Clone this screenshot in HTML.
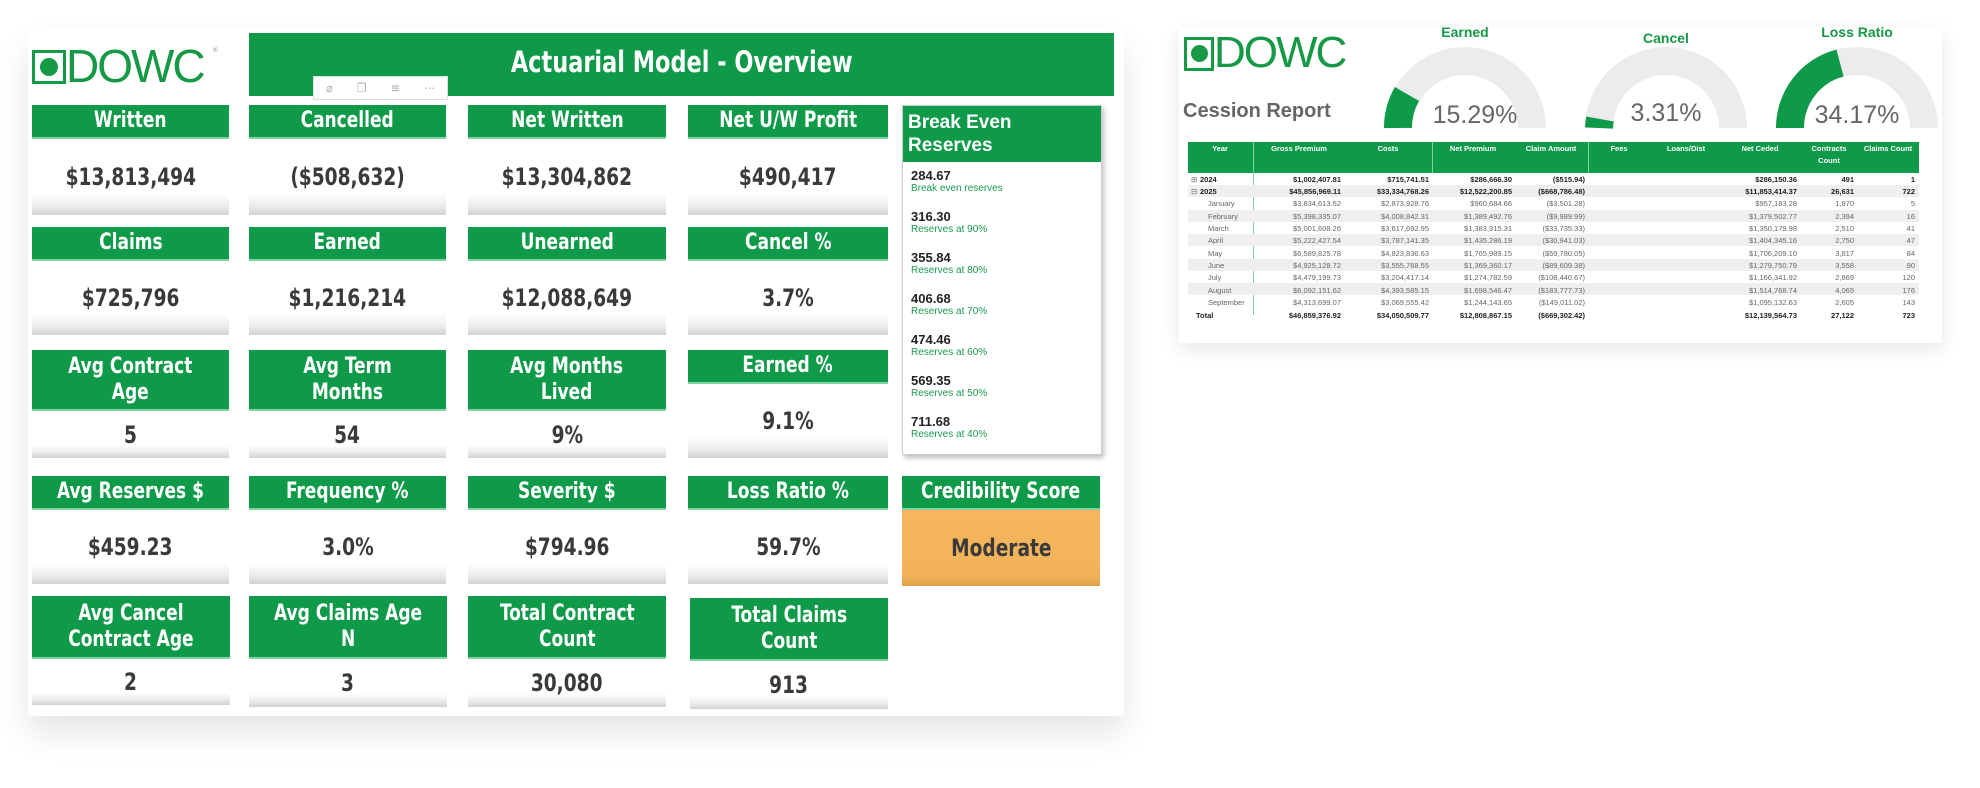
<!DOCTYPE html>
<html><head><meta charset="utf-8">
<style>
*{margin:0;padding:0;box-sizing:border-box}
body{width:1980px;height:788px;background:#fff;position:relative;overflow:hidden;font-family:"DejaVu Sans Condensed","Liberation Sans",sans-serif}
.a{position:absolute}
.panel{position:absolute;background:#fff}
.hd{position:absolute;background:#0e9a48;color:#fff;text-align:center;font-size:22px;line-height:26px;display:flex;align-items:center;justify-content:center;border-bottom:2px solid #7fd3a0;font-weight:bold}
.hd span,.vb span{display:inline-block;transform:scaleX(.86);white-space:nowrap}
.vb{position:absolute;background:linear-gradient(#fff 0%,#fff 72%,#ececec 88%,#d2d2d2 100%);color:#3a3a3a;font-size:24px;font-weight:bold;text-align:center;display:flex;align-items:center;justify-content:center}
.be{position:absolute;left:8px;font-family:"Liberation Sans",sans-serif}
.bv{font-size:13px;font-weight:bold;color:#222}
.bl{font-size:10px;color:#1a9a50}
.logo{position:absolute;color:#159945;font-family:"Liberation Sans",sans-serif;letter-spacing:-2px}
</style></head><body>
<div class="a" style="left:28px;top:28px;width:1096px;height:688px;box-shadow:0 18px 30px rgba(0,0,0,0.10)"></div>
<div class="panel" style="left:28px;top:28px;width:1096px;height:688px"></div>

<div class="a" style="left:32px;top:50px;width:34px;height:34px;border:3px solid #159945"></div>
<div class="a" style="left:40px;top:58px;width:18px;height:18px;border-radius:50%;background:#159945"></div>
<div class="logo" style="left:66px;top:40px;font-size:46px;line-height:52px">DOWC</div>
<div class="a" style="left:212px;top:46px;font-size:7px;color:#999">®</div>

<div class="hd" style="left:249px;top:33px;width:865px;height:63px;font-size:29px;border:none;padding-bottom:6px"><span>Actuarial Model - Overview</span></div>
<div class="a" style="left:313px;top:76px;width:135px;height:24px;background:#fff;border:1px solid #ddd;color:#aaa;font-size:12px;display:flex;justify-content:space-around;align-items:center"><span>⌀</span><span>❐</span><span>≡</span><span>⋯</span></div>

<div class="hd" style="left:32px;top:105px;width:197px;height:34px"><span>Written</span></div>
<div class="vb" style="left:32px;top:139px;width:197px;height:76px"><span>$13,813,494</span></div>
<div class="hd" style="left:249px;top:105px;width:197px;height:34px"><span>Cancelled</span></div>
<div class="vb" style="left:249px;top:139px;width:197px;height:76px"><span>($508,632)</span></div>
<div class="hd" style="left:468px;top:105px;width:198px;height:34px"><span>Net Written</span></div>
<div class="vb" style="left:468px;top:139px;width:198px;height:76px"><span>$13,304,862</span></div>
<div class="hd" style="left:688px;top:105px;width:200px;height:34px"><span>Net U/W Profit</span></div>
<div class="vb" style="left:688px;top:139px;width:200px;height:76px"><span>$490,417</span></div>

<div class="hd" style="left:32px;top:227px;width:197px;height:34px"><span>Claims</span></div>
<div class="vb" style="left:32px;top:261px;width:197px;height:74px"><span>$725,796</span></div>
<div class="hd" style="left:249px;top:227px;width:197px;height:34px"><span>Earned</span></div>
<div class="vb" style="left:249px;top:261px;width:197px;height:74px"><span>$1,216,214</span></div>
<div class="hd" style="left:468px;top:227px;width:198px;height:34px"><span>Unearned</span></div>
<div class="vb" style="left:468px;top:261px;width:198px;height:74px"><span>$12,088,649</span></div>
<div class="hd" style="left:688px;top:227px;width:200px;height:34px"><span>Cancel %</span></div>
<div class="vb" style="left:688px;top:261px;width:200px;height:74px"><span>3.7%</span></div>

<div class="hd" style="left:32px;top:350px;width:197px;height:61px"><span>Avg Contract<br>Age</span></div>
<div class="vb" style="left:32px;top:411px;width:197px;height:47px"><span>5</span></div>
<div class="hd" style="left:249px;top:350px;width:197px;height:61px"><span>Avg Term<br>Months</span></div>
<div class="vb" style="left:249px;top:411px;width:197px;height:47px"><span>54</span></div>
<div class="hd" style="left:468px;top:350px;width:198px;height:61px"><span>Avg Months<br>Lived</span></div>
<div class="vb" style="left:468px;top:411px;width:198px;height:47px"><span>9%</span></div>
<div class="hd" style="left:688px;top:350px;width:200px;height:34px"><span>Earned %</span></div>
<div class="vb" style="left:688px;top:384px;width:200px;height:74px"><span>9.1%</span></div>

<div class="hd" style="left:32px;top:476px;width:197px;height:34px"><span>Avg Reserves $</span></div>
<div class="vb" style="left:32px;top:510px;width:197px;height:74px"><span>$459.23</span></div>
<div class="hd" style="left:249px;top:476px;width:197px;height:34px"><span>Frequency %</span></div>
<div class="vb" style="left:249px;top:510px;width:197px;height:74px"><span>3.0%</span></div>
<div class="hd" style="left:468px;top:476px;width:198px;height:34px"><span>Severity $</span></div>
<div class="vb" style="left:468px;top:510px;width:198px;height:74px"><span>$794.96</span></div>
<div class="hd" style="left:688px;top:476px;width:200px;height:34px"><span>Loss Ratio %</span></div>
<div class="vb" style="left:688px;top:510px;width:200px;height:74px"><span>59.7%</span></div>
<div class="hd" style="left:902px;top:476px;width:198px;height:34px"><span>Credibility Score</span></div>
<div class="vb" style="left:902px;top:510px;width:198px;height:76px;background:linear-gradient(#f6b55e,#f2b35a 85%,#e0a24c)"><span>Moderate</span></div>

<div class="hd" style="left:32px;top:596px;width:198px;height:63px"><span>Avg Cancel<br>Contract Age</span></div>
<div class="vb" style="left:32px;top:659px;width:198px;height:46px"><span>2</span></div>
<div class="hd" style="left:249px;top:596px;width:198px;height:63px"><span>Avg Claims Age<br>N</span></div>
<div class="vb" style="left:249px;top:659px;width:198px;height:48px"><span>3</span></div>
<div class="hd" style="left:468px;top:596px;width:198px;height:63px"><span>Total Contract<br>Count</span></div>
<div class="vb" style="left:468px;top:659px;width:198px;height:48px"><span>30,080</span></div>
<div class="hd" style="left:690px;top:598px;width:198px;height:63px"><span>Total Claims<br>Count</span></div>
<div class="vb" style="left:690px;top:661px;width:198px;height:48px"><span>913</span></div>

<div class="a" style="left:902px;top:105px;width:200px;height:350px;background:#fff;border:1px solid #ccc;box-shadow:2px 3px 5px rgba(0,0,0,0.25)">
  <div style="background:#0e9a48;color:#fff;height:56px;font-family:'Liberation Sans',sans-serif;font-size:19px;line-height:23px;padding:5px 5px;font-weight:bold">Break Even<br>Reserves</div>
  <div class="be" style="top:62px"><div class="bv">284.67</div><div class="bl">Break even reserves</div></div>
  <div class="be" style="top:103px"><div class="bv">316.30</div><div class="bl">Reserves at 90%</div></div>
  <div class="be" style="top:144px"><div class="bv">355.84</div><div class="bl">Reserves at 80%</div></div>
  <div class="be" style="top:185px"><div class="bv">406.68</div><div class="bl">Reserves at 70%</div></div>
  <div class="be" style="top:226px"><div class="bv">474.46</div><div class="bl">Reserves at 60%</div></div>
  <div class="be" style="top:267px"><div class="bv">569.35</div><div class="bl">Reserves at 50%</div></div>
  <div class="be" style="top:308px"><div class="bv">711.68</div><div class="bl">Reserves at 40%</div></div>
</div>

<div class="a" style="left:1179px;top:27px;width:763px;height:316px;background:#fff;box-shadow:0 6px 18px rgba(0,0,0,0.10)"></div>
<div class="a" style="left:1184px;top:37px;width:30px;height:34px;border:3px solid #159945"></div>
<div class="a" style="left:1191px;top:45px;width:17px;height:17px;border-radius:50%;background:#159945"></div>
<div class="logo" style="left:1214px;top:29px;font-size:44px;line-height:48px">DOWC</div>
<div class="a" style="left:1183px;top:100px;font-family:'Liberation Sans',sans-serif;font-size:20px;font-weight:bold;color:#666">Cession Report</div>

<svg class="a" style="left:1370px;top:25px" width="572" height="110">
  <g font-family="Liberation Sans, sans-serif" text-anchor="middle">
    <path d="M28,103 A67,67 0 0 1 162,103" fill="none" stroke="#ececec" stroke-width="28"/>
    <path d="M28,103 A67,67 0 0 1 37,69" fill="none" stroke="#0e9a48" stroke-width="28"/>
    <text x="95" y="12" font-size="14" font-weight="bold" fill="#159945">Earned</text>
    <text x="105" y="98" font-size="25" fill="#666">15.29%</text>
    <path d="M229,103 A67,67 0 0 1 363,103" fill="none" stroke="#ececec" stroke-width="28"/>
    <path d="M229,103 A67,67 0 0 1 230,94" fill="none" stroke="#0e9a48" stroke-width="28"/>
    <text x="296" y="18" font-size="14" font-weight="bold" fill="#159945">Cancel</text>
    <text x="296" y="96" font-size="25" fill="#666">3.31%</text>
    <path d="M420,103 A67,67 0 0 1 554,103" fill="none" stroke="#ececec" stroke-width="28"/>
    <path d="M420,103 A67,67 0 0 1 470,38" fill="none" stroke="#0e9a48" stroke-width="28"/>
    <text x="487" y="12" font-size="14" font-weight="bold" fill="#159945">Loss Ratio</text>
    <text x="487" y="98" font-size="25" fill="#666">34.17%</text>
  </g>
</svg>

<div class="a" style="left:1188px;top:142px;width:731px;height:31px;background:#0e9a48"></div>
<div class="a" style="left:1253px;top:142px;width:1px;height:173px;background:#7fd3a0"></div>
<div class="a" style="left:1432px;top:142px;width:1px;height:31px;background:#7fd3a0"></div>
<div class="a" style="left:1588px;top:142px;width:1px;height:31px;background:#7fd3a0"></div>
<svg class="a" style="left:1188px;top:142px" width="740" height="180" font-family="Liberation Sans, sans-serif" font-size="7.5">
  <g fill="#fff" font-weight="bold" text-anchor="middle">
    <text x="32" y="9">Year</text><text x="111" y="9">Gross Premium</text><text x="200" y="9">Costs</text>
    <text x="285" y="9">Net Premium</text><text x="363" y="9">Claim Amount</text><text x="431" y="9">Fees</text>
    <text x="498" y="9">Loans/Dist</text><text x="572" y="9">Net Ceded</text><text x="641" y="9">Contracts</text>
    <text x="641" y="21">Count</text><text x="700" y="9">Claims Count</text>
  </g>
  <g fill="#efefef">
    <rect x="0" y="43" width="731" height="12"/><rect x="0" y="68" width="731" height="12"/>
    <rect x="0" y="92" width="731" height="12"/><rect x="0" y="117" width="731" height="12"/>
    <rect x="0" y="141" width="731" height="12"/>
  </g>
  <g fill="#222" font-weight="bold">
    <text x="12" y="40">2024</text><text x="12" y="52">2025</text><text x="8" y="176">Total</text>
  </g>
  <g fill="#777"><text x="3" y="40">⊞</text><text x="3" y="52">⊟</text></g>
  <g fill="#666">
    <text x="20" y="64">January</text><text x="20" y="77">February</text><text x="20" y="89">March</text>
    <text x="20" y="101">April</text><text x="20" y="114">May</text><text x="20" y="126">June</text>
    <text x="20" y="138">July</text><text x="20" y="151">August</text><text x="20" y="163">September</text>
  </g>
  <g text-anchor="end" fill="#222" font-weight="bold">
    <text x="153" y="40">$1,002,407.81</text><text x="241" y="40">$715,741.51</text><text x="324" y="40">$286,666.30</text><text x="397" y="40">($515.94)</text><text x="609" y="40">$286,150.36</text><text x="666" y="40">491</text><text x="727" y="40">1</text>
    <text x="153" y="52">$45,856,969.11</text><text x="241" y="52">$33,334,768.26</text><text x="324" y="52">$12,522,200.85</text><text x="397" y="52">($668,786.48)</text><text x="609" y="52">$11,853,414.37</text><text x="666" y="52">26,631</text><text x="727" y="52">722</text>
    <text x="153" y="176">$46,859,376.92</text><text x="241" y="176">$34,050,509.77</text><text x="324" y="176">$12,808,867.15</text><text x="397" y="176">($669,302.42)</text><text x="609" y="176">$12,139,564.73</text><text x="666" y="176">27,122</text><text x="727" y="176">723</text>
  </g>
  <g text-anchor="end" fill="#666">
    <text x="153" y="64">$3,834,613.52</text><text x="241" y="64">$2,873,928.76</text><text x="324" y="64">$960,684.66</text><text x="397" y="64">($3,501.28)</text><text x="609" y="64">$957,183.28</text><text x="666" y="64">1,870</text><text x="727" y="64">5</text>
    <text x="153" y="77">$5,398,335.07</text><text x="241" y="77">$4,008,842.31</text><text x="324" y="77">$1,389,492.76</text><text x="397" y="77">($9,989.99)</text><text x="609" y="77">$1,379,502.77</text><text x="666" y="77">2,394</text><text x="727" y="77">16</text>
    <text x="153" y="89">$5,001,608.26</text><text x="241" y="89">$3,617,692.95</text><text x="324" y="89">$1,383,915.31</text><text x="397" y="89">($33,735.33)</text><text x="609" y="89">$1,350,179.98</text><text x="666" y="89">2,510</text><text x="727" y="89">41</text>
    <text x="153" y="101">$5,222,427.54</text><text x="241" y="101">$3,787,141.35</text><text x="324" y="101">$1,435,286.19</text><text x="397" y="101">($30,941.03)</text><text x="609" y="101">$1,404,345.16</text><text x="666" y="101">2,750</text><text x="727" y="101">47</text>
    <text x="153" y="114">$6,589,825.78</text><text x="241" y="114">$4,823,836.63</text><text x="324" y="114">$1,765,989.15</text><text x="397" y="114">($59,780.05)</text><text x="609" y="114">$1,706,209.10</text><text x="666" y="114">3,817</text><text x="727" y="114">84</text>
    <text x="153" y="126">$4,925,128.72</text><text x="241" y="126">$3,555,768.55</text><text x="324" y="126">$1,369,360.17</text><text x="397" y="126">($89,609.38)</text><text x="609" y="126">$1,279,750.79</text><text x="666" y="126">3,558</text><text x="727" y="126">90</text>
    <text x="153" y="138">$4,479,199.73</text><text x="241" y="138">$3,204,417.14</text><text x="324" y="138">$1,274,782.59</text><text x="397" y="138">($108,440.67)</text><text x="609" y="138">$1,166,341.92</text><text x="666" y="138">2,869</text><text x="727" y="138">120</text>
    <text x="153" y="151">$6,092,151.62</text><text x="241" y="151">$4,393,585.15</text><text x="324" y="151">$1,698,546.47</text><text x="397" y="151">($183,777.73)</text><text x="609" y="151">$1,514,768.74</text><text x="666" y="151">4,065</text><text x="727" y="151">176</text>
    <text x="153" y="163">$4,313,699.07</text><text x="241" y="163">$3,069,555.42</text><text x="324" y="163">$1,244,143.65</text><text x="397" y="163">($149,011.02)</text><text x="609" y="163">$1,095,132.63</text><text x="666" y="163">2,605</text><text x="727" y="163">143</text>
  </g>
</svg>
</body></html>
